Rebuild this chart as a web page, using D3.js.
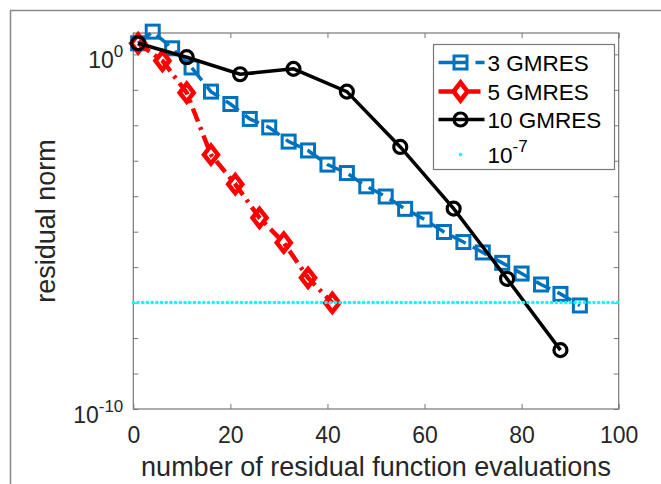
<!DOCTYPE html>
<html>
<head>
<meta charset="utf-8">
<script src="https://cdn.jsdelivr.net/npm/d3@7"></script>
<style>
  body { margin: 0; background: #fff; }
  svg { font-family: "Liberation Sans", Arial, sans-serif; }
</style>
</head>
<body>
<div id="chart"></div>
<script>
// data
var xTicks = [0, 20, 40, 60, 80, 100];
var yTicks = [1e-10, 1e-9, 1e-8, 1e-7, 1e-6, 1e-5, 1e-4, 1e-3, 1e-2, 1e-1, 1];
var yLabelExp = {"1": "0", "1e-5": "-5", "1e-10": "-10"};

var gm3X = [1, 4, 8, 12, 16, 20, 24, 28, 32, 36, 40, 44, 48, 52, 56, 60, 64, 68, 72, 76, 80, 84, 88, 92];
var gm3Y = [2.05, 4.37, 1.48, 0.427, 0.089, 0.0398, 0.0151, 0.0087, 0.00347, 0.00195, 7.8e-4, 4.5e-4,
            1.9e-4, 9.8e-5, 4.4e-5, 2.2e-5, 9.8e-6, 5.1e-6, 2.6e-6, 1.32e-6, 6.6e-7, 3.24e-7, 1.76e-7, 8.3e-8];

var gm5X = [1, 6, 11, 16, 21, 26, 31, 36, 41];
var gm5Y = [2.05, 0.66, 0.083, 1.48e-3, 2.19e-4, 2.45e-5, 4.9e-6, 5.0e-7, 9.8e-8];

var gm10X = [1, 11, 22, 33, 44, 55, 66, 77, 88];
var gm10Y = [2.05, 0.83, 0.275, 0.39, 0.089, 2.45e-3, 4.47e-5, 4.68e-7, 4.57e-9];

var tolX = [0, 100];
var tolY = [1e-7, 1e-7];

var W = 661, H = 484;
var margin = {top: 33, left: 133.3, right: 42.3, bottom: 75};
var width = W - margin.left - margin.right,
    height = H - margin.top - margin.bottom;
var txt = "#262626", axisCol = "#777";

var svg = d3.select("#chart").append("svg")
  .attr("width", W)
  .attr("height", H);

// figure frame
svg.append("path")
  .attr("d", "M10.5," + H + "V10.5H" + W)
  .attr("fill", "none")
  .attr("stroke", "#888")
  .attr("stroke-width", 1.5);

var g = svg.append("g").attr("transform", "translate(" + margin.left + "," + margin.top + ")");

var x = d3.scaleLinear().domain([0, 100]).range([0, width]);
var y = d3.scaleLog().domain([1e-10, 4]).range([height, 0]);

// axes, ticks inside
g.append("g")
  .attr("transform", "translate(0," + height + ")")
  .call(d3.axisBottom(x).tickValues(xTicks).tickSizeInner(-5).tickSizeOuter(0).tickPadding(18))
  .call(function(s) {
    s.select(".domain").remove();
    s.selectAll("line").attr("stroke", axisCol);
    s.selectAll("text").attr("fill", txt).style("font-size", "23px");
  });
g.append("g")
  .call(d3.axisTop(x).tickValues(xTicks).tickSizeInner(-5).tickSizeOuter(0).tickFormat(""))
  .call(function(s) { s.select(".domain").remove(); s.selectAll("line").attr("stroke", axisCol); });

g.append("g")
  .call(d3.axisLeft(y).tickValues(yTicks).tickSizeInner(-5).tickSizeOuter(0).tickFormat(""))
  .call(function(s) { s.select(".domain").remove(); s.selectAll("line").attr("stroke", axisCol); });
g.append("g")
  .attr("transform", "translate(" + width + ",0)")
  .call(d3.axisRight(y).tickValues(yTicks).tickSizeInner(-5).tickSizeOuter(0).tickFormat(""))
  .call(function(s) { s.select(".domain").remove(); s.selectAll("line").attr("stroke", axisCol); });

// y tick labels with superscripts
yTicks.filter(function(d) { return yLabelExp[String(d)] !== undefined; }).forEach(function(d) {
  var t = g.append("text")
    .attr("x", -10)
    .attr("y", y(d) + 14)
    .attr("text-anchor", "end")
    .attr("fill", txt)
    .style("font-size", "23px");
  t.append("tspan").text("10");
  t.append("tspan").attr("dy", -11).style("font-size", "17px").text(yLabelExp[String(d)]);
});

g.append("rect")
  .attr("width", width).attr("height", height)
  .attr("fill", "none").attr("stroke", axisCol).attr("stroke-width", 1.2);

// axis labels
svg.append("text")
  .attr("x", margin.left + width / 2)
  .attr("y", 476)
  .attr("text-anchor", "middle")
  .attr("fill", txt)
  .style("font-size", "27px")
  .text("number of residual function evaluations");
svg.append("text")
  .attr("transform", "translate(55," + (margin.top + height / 2) + ") rotate(-90)")
  .attr("text-anchor", "middle")
  .attr("fill", txt)
  .style("font-size", "27px")
  .text("residual norm");

var series = [
  {name: "3 GMRES", xs: gm3X, ys: gm3Y, color: "#0072BD", width: 3.5, dash: "16,8", marker: "square"},
  {name: "5 GMRES", xs: gm5X, ys: gm5Y, color: "#FF0000", width: 4.5, dash: "14,6,3,6", marker: "diamond"},
  {name: "10 GMRES", xs: gm10X, ys: gm10Y, color: "#000000", width: 3.5, dash: null, marker: "circle"}
];

var line = d3.line()
  .x(function(d) { return x(d[0]); })
  .y(function(d) { return y(d[1]); });

function drawMarker(sel, type, color, cx, cy) {
  if (type === "square") {
    sel.append("rect")
      .attr("x", cx - 6.5).attr("y", cy - 6.5).attr("width", 13).attr("height", 13)
      .attr("fill", "none").attr("stroke", color).attr("stroke-width", 3);
  } else if (type === "diamond") {
    sel.append("path")
      .attr("d", "M" + cx + "," + (cy - 9) + "L" + (cx + 7) + "," + cy + "L" + cx + "," + (cy + 9) + "L" + (cx - 7) + "," + cy + "Z")
      .attr("fill", "none").attr("stroke", color).attr("stroke-width", 4.5);
  } else {
    sel.append("circle")
      .attr("cx", cx).attr("cy", cy).attr("r", 6.5)
      .attr("fill", "none").attr("stroke", color).attr("stroke-width", 3.2);
  }
}

series.forEach(function(s) {
  var pts = s.xs.map(function(v, i) { return [v, s.ys[i]]; });
  g.append("path")
    .datum(pts)
    .attr("d", line)
    .attr("fill", "none")
    .attr("stroke", s.color)
    .attr("stroke-width", s.width)
    .attr("stroke-dasharray", s.dash);
  var mg = g.append("g");
  pts.forEach(function(p) { drawMarker(mg, s.marker, s.color, x(p[0]), y(p[1])); });
});

// tolerance line
g.append("path")
  .datum(tolX.map(function(v, i) { return [v, tolY[i]]; }))
  .attr("d", line)
  .attr("fill", "none")
  .attr("stroke", "#00FFFF")
  .attr("stroke-width", 3.5)
  .attr("stroke-linecap", "round")
  .attr("stroke-dasharray", "0.1,4.6");

// legend
var lg = svg.append("g").attr("transform", "translate(433.5,44.5)");
lg.append("rect")
  .attr("width", 181).attr("height", 125)
  .attr("fill", "#fff").attr("stroke", axisCol).attr("stroke-width", 1.2);
var rowsY = [18, 47, 75];
series.forEach(function(s, i) {
  lg.append("line")
    .attr("x1", 5).attr("x2", 51).attr("y1", rowsY[i]).attr("y2", rowsY[i])
    .attr("stroke", s.color).attr("stroke-width", s.width)
    .attr("stroke-dasharray", s.dash ? (s.marker === "square" ? "28,9,12" : "18,12,12") : null);
  drawMarker(lg, s.marker, s.color, 27, rowsY[i]);
  lg.append("text")
    .attr("x", 54).attr("y", rowsY[i] + 8)
    .attr("fill", "#000")
    .style("font-size", "22.5px")
    .text(s.name);
});
lg.append("circle").attr("cx", 27).attr("cy", 110).attr("r", 1.8).attr("fill", "#00FFFF");
var lt = lg.append("text").attr("x", 54).attr("y", 118).attr("fill", "#000").style("font-size", "22.5px");
lt.append("tspan").text("10");
lt.append("tspan").attr("dy", -11).style("font-size", "17px").text("-7");
</script>
</body>
</html>
